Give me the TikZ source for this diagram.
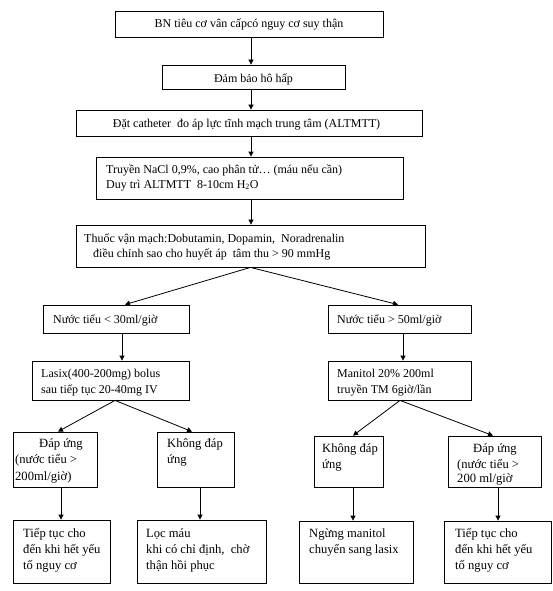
\documentclass[tikz,border=0pt]{standalone}
\usepackage{fontspec}
\setmainfont{Liberation Serif}
\usetikzlibrary{arrows.meta}
\begin{document}
\begin{tikzpicture}[x=1pt,y=-1pt,
  box/.style={draw,line width=0.8pt,inner sep=0pt},
  txt/.style={anchor=base west,inner sep=0pt,font=\fontsize{12}{14}\selectfont},
  btxt/.style={anchor=base west,inner sep=0pt,font=\fontsize{12.6}{15}\selectfont},
  ctxt/.style={anchor=base,inner sep=0pt,font=\fontsize{12}{14}\selectfont},
  arr/.style={line width=0.8pt,-{Triangle[length=5pt,width=5pt]}}]
\useasboundingbox (0,0) rectangle (553,591);
\fill[white] (0,0) rectangle (553,591);
% boxes
\node[box,minimum width=268pt,minimum height=26pt] (b1) at (249,24) {};
\node[box,minimum width=183pt,minimum height=24pt] (b2) at (253.5,77) {};
\node[box,minimum width=346pt,minimum height=26pt] (b3) at (249,123) {};
\node[box,minimum width=307pt,minimum height=42pt] (b4) at (249.5,178) {};
\node[box,minimum width=349pt,minimum height=42pt] (b5) at (250.5,246) {};
\node[box,minimum width=146pt,minimum height=28pt] (n1) at (116,319) {};
\node[box,minimum width=143pt,minimum height=28pt] (n2) at (399.5,319) {};
\node[box,minimum width=157pt,minimum height=39pt] (l1) at (110.5,380.5) {};
\node[box,minimum width=143pt,minimum height=39pt] (m1) at (399.5,380.5) {};
\node[box,minimum width=84pt,minimum height=55pt] (d1) at (55,459.5) {};
\node[box,minimum width=77pt,minimum height=55pt] (k1) at (195.5,459.5) {};
\node[box,minimum width=97pt,minimum height=63pt] (t1) at (61.5,551.5) {};
\node[box,minimum width=129pt,minimum height=63pt] (c1) at (201.5,551.5) {};
\node[box,minimum width=69pt,minimum height=51pt] (k2) at (348.5,461.5) {};
\node[box,minimum width=93pt,minimum height=51pt] (d2) at (494.5,461.5) {};
\node[box,minimum width=114pt,minimum height=62pt] (g2) at (356,552) {};
\node[box,minimum width=107pt,minimum height=62pt] (t2) at (497.5,552) {};
% texts
\node[ctxt] (tb1) at (249,28) {BN tiêu cơ vân cấpcó nguy cơ suy thận};
\node[ctxt] (tb2) at (253.5,83) {Đảm bảo hô hấp};
\node[ctxt] (tb3) at (246.5,128) {Đặt catheter\ \ đo áp lực tĩnh mạch trung tâm (ALTMTT)};
\node[txt] (tb4a) at (106,173) {Truyền NaCl 0,9\%, cao phân tử… (máu nếu cần)};
\node[txt] (tb4b) at (106,188) {Duy trì ALTMTT\ \ 8-10cm H\textsubscript{2}O};
\node[txt] (tb5a) at (84,242) {Thuốc vận mạch:Dobutamin, Dopamin,\ \ Noradrenalin};
\node[txt] (tb5b) at (93,257) {điều chỉnh sao cho huyết áp\ \ tâm thu > 90 mmHg};
\node[txt] (tn1) at (53,323) {Nước tiểu < 30ml/giờ};
\node[txt] (tn2) at (337,323) {Nước tiểu > 50ml/giờ};
\node[txt] (tl1a) at (41,377) {Lasix(400-200mg) bolus};
\node[txt] (tl1b) at (41,393) {sau tiếp tục 20-40mg IV};
\node[txt] (tm1a) at (337,377) {Manitol 20\% 200ml};
\node[txt] (tm1b) at (337,393) {truyền TM 6giờ/lần};
\node[btxt] (td1a) at (39,447) {Đáp ứng};
\node[btxt] (td1b) at (15,463) {(nước tiểu >};
\node[btxt] (td1c) at (15,480) {200ml/giờ)};
\node[btxt] (tk1a) at (167,447) {Không đáp};
\node[btxt] (tk1b) at (167,463) {ứng};
\node[btxt] (tt1a) at (23,537) {Tiếp tục cho};
\node[btxt] (tt1b) at (23,553) {đến khi hết yếu};
\node[btxt] (tt1c) at (23,569) {tố nguy cơ};
\node[btxt] (tc1a) at (146,537) {Lọc máu};
\node[btxt] (tc1b) at (146,553) {khi có chỉ định,\ \ chờ};
\node[btxt] (tc1c) at (146,569) {thận hồi phục};
\node[btxt] (tk2a) at (322,452) {Không đáp};
\node[btxt] (tk2b) at (322,468) {ứng};
\node[btxt] (td2a) at (473,452) {Đáp ứng};
\node[btxt] (td2b) at (457,468) {(nước tiểu >};
\node[btxt] (td2c) at (457,482) {200 ml/giờ};
\node[btxt] (tg2a) at (309,537) {Ngừng manitol};
\node[btxt] (tg2b) at (309,553) {chuyển sang lasix};
\node[btxt] (tt2a) at (455,537) {Tiếp tục cho};
\node[btxt] (tt2b) at (455,553) {đến khi hết yếu};
\node[btxt] (tt2c) at (455,569) {tố nguy cơ};
% connectors
\draw[arr] ([xshift=2pt]b1.south) -- ([xshift=2pt]b1.south |- b2.north);
\draw[arr] ([xshift=2pt]b1.south |- b2.south) -- ([xshift=2pt]b1.south |- b3.north);
\draw[arr] ([xshift=2pt]b3.south) -- ([xshift=2pt]b3.south |- b4.north);
\draw[arr] ([xshift=1.5pt]b4.south) -- ([xshift=1.5pt]b4.south |- b5.north);
\draw[arr] (b5.south) -- ([xshift=9pt]n1.north);
\draw[arr] (b5.south) -- ([xshift=-1.5pt]n2.north);
\draw[arr] ([xshift=6pt]n1.south) -- ([xshift=6pt]n1.south |- l1.north);
\draw[arr] ([xshift=3.5pt]n2.south) -- ([xshift=3.5pt]n2.south |- m1.north);
\draw[arr] ([xshift=4.5pt]l1.south) -- ([xshift=3pt]d1.north);
\draw[arr] ([xshift=4.5pt]l1.south) -- ([xshift=-3.5pt]k1.north);
\draw[arr] ([xshift=0.5pt]m1.south) -- ([xshift=4.5pt]k2.north);
\draw[arr] ([xshift=0.5pt]m1.south) -- ([xshift=-1.5pt]d2.north);
\draw[arr] ([xshift=6pt]d1.south) -- ([xshift=6pt]d1.south |- t1.north);
\draw[arr] ([xshift=4.5pt]k1.south) -- ([xshift=4.5pt]k1.south |- c1.north);
\draw[arr] ([xshift=4.5pt]k2.south) -- ([xshift=4.5pt]k2.south |- g2.north);
\draw[arr] ([xshift=3.5pt]d2.south) -- ([xshift=3.5pt]d2.south |- t2.north);
\end{tikzpicture}
\end{document}
